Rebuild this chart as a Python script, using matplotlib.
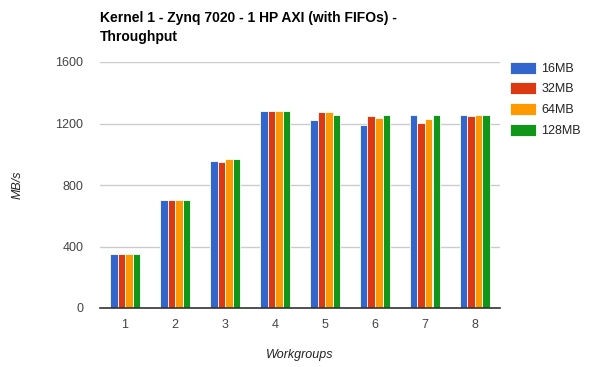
import matplotlib
matplotlib.use("Agg")
import matplotlib.pyplot as plt
import numpy as np

plt.rcParams['font.family'] = ['Liberation Sans', 'DejaVu Sans']

categories = ["1", "2", "3", "4", "5", "6", "7", "8"]
series_names = ["16MB", "32MB", "64MB", "128MB"]
s16 = [348, 700, 957, 1280, 1225, 1192, 1253, 1253]
s32 = [348, 700, 950, 1280, 1275, 1246, 1205, 1246]
s64 = [348, 700, 972, 1280, 1273, 1238, 1231, 1253]
s128 = [348, 700, 972, 1280, 1253, 1253, 1253, 1253]
series = [s16, s32, s64, s128]
colors = ["#3366cc", "#dc3912", "#ff9900", "#109618"]
yticks = [0, 400, 800, 1200, 1600]

W, H = 592, 367
fig = plt.figure(figsize=(W / 100, H / 100), dpi=100)
ax = fig.add_axes([100 / W, 1 - 308 / H, 400 / W, 246 / H])

x = np.arange(len(categories))
group = 0.6
bw = group / len(series)
for i, (vals, c, name) in enumerate(zip(series, colors, series_names)):
    ax.bar(x - group / 2 + bw * (i + 0.5), vals, width=bw, color=c,
           edgecolor="white", linewidth=0.6, label=name, zorder=3)

ax.set_xlim(-0.5, len(categories) - 0.5)
ax.set_ylim(0, 1600)
ax.set_yticks(yticks)
ax.set_yticklabels([str(v) for v in yticks])
ax.set_xticks(x)
ax.set_xticklabels(categories)
ax.grid(axis="y", color="#cccccc", linewidth=1, zorder=0)
for s in ["top", "right", "left"]:
    ax.spines[s].set_visible(False)
ax.spines["bottom"].set_color("#333333")
ax.spines["bottom"].set_linewidth(1.2)
ax.spines["bottom"].set_zorder(4)
ax.tick_params(axis="both", length=0, labelsize=9, colors="#444444")
ax.tick_params(axis="y", pad=12)
ax.tick_params(axis="x", pad=8)

fig.text(300 / W, 1 - 355 / H, "Workgroups", fontsize=9, style="italic",
         color="#222222", ha="center", va="center")
fig.text(18 / W, 1 - 185 / H, "MB/s", fontsize=9, style="italic",
         color="#222222", ha="center", va="center", rotation=90)

fig.text(100 / W, 1 - 11 / H, "Kernel 1 - Zynq 7020 - 1 HP AXI (with FIFOs) -\nThroughput",
         fontsize=10, fontweight="bold", ha="left", va="top", color="#000000",
         linespacing=1.45)

leg = fig.legend(loc="upper left", bbox_to_anchor=(507 / W, 1 - 59 / H), frameon=False,
                 fontsize=9, handlelength=2.1, handleheight=1.1, labelspacing=0.6,
                 handletextpad=0.45, borderaxespad=0, borderpad=0.2)
for t in leg.get_texts():
    t.set_color("#222222")

fig.savefig("out.png", dpi=100)
